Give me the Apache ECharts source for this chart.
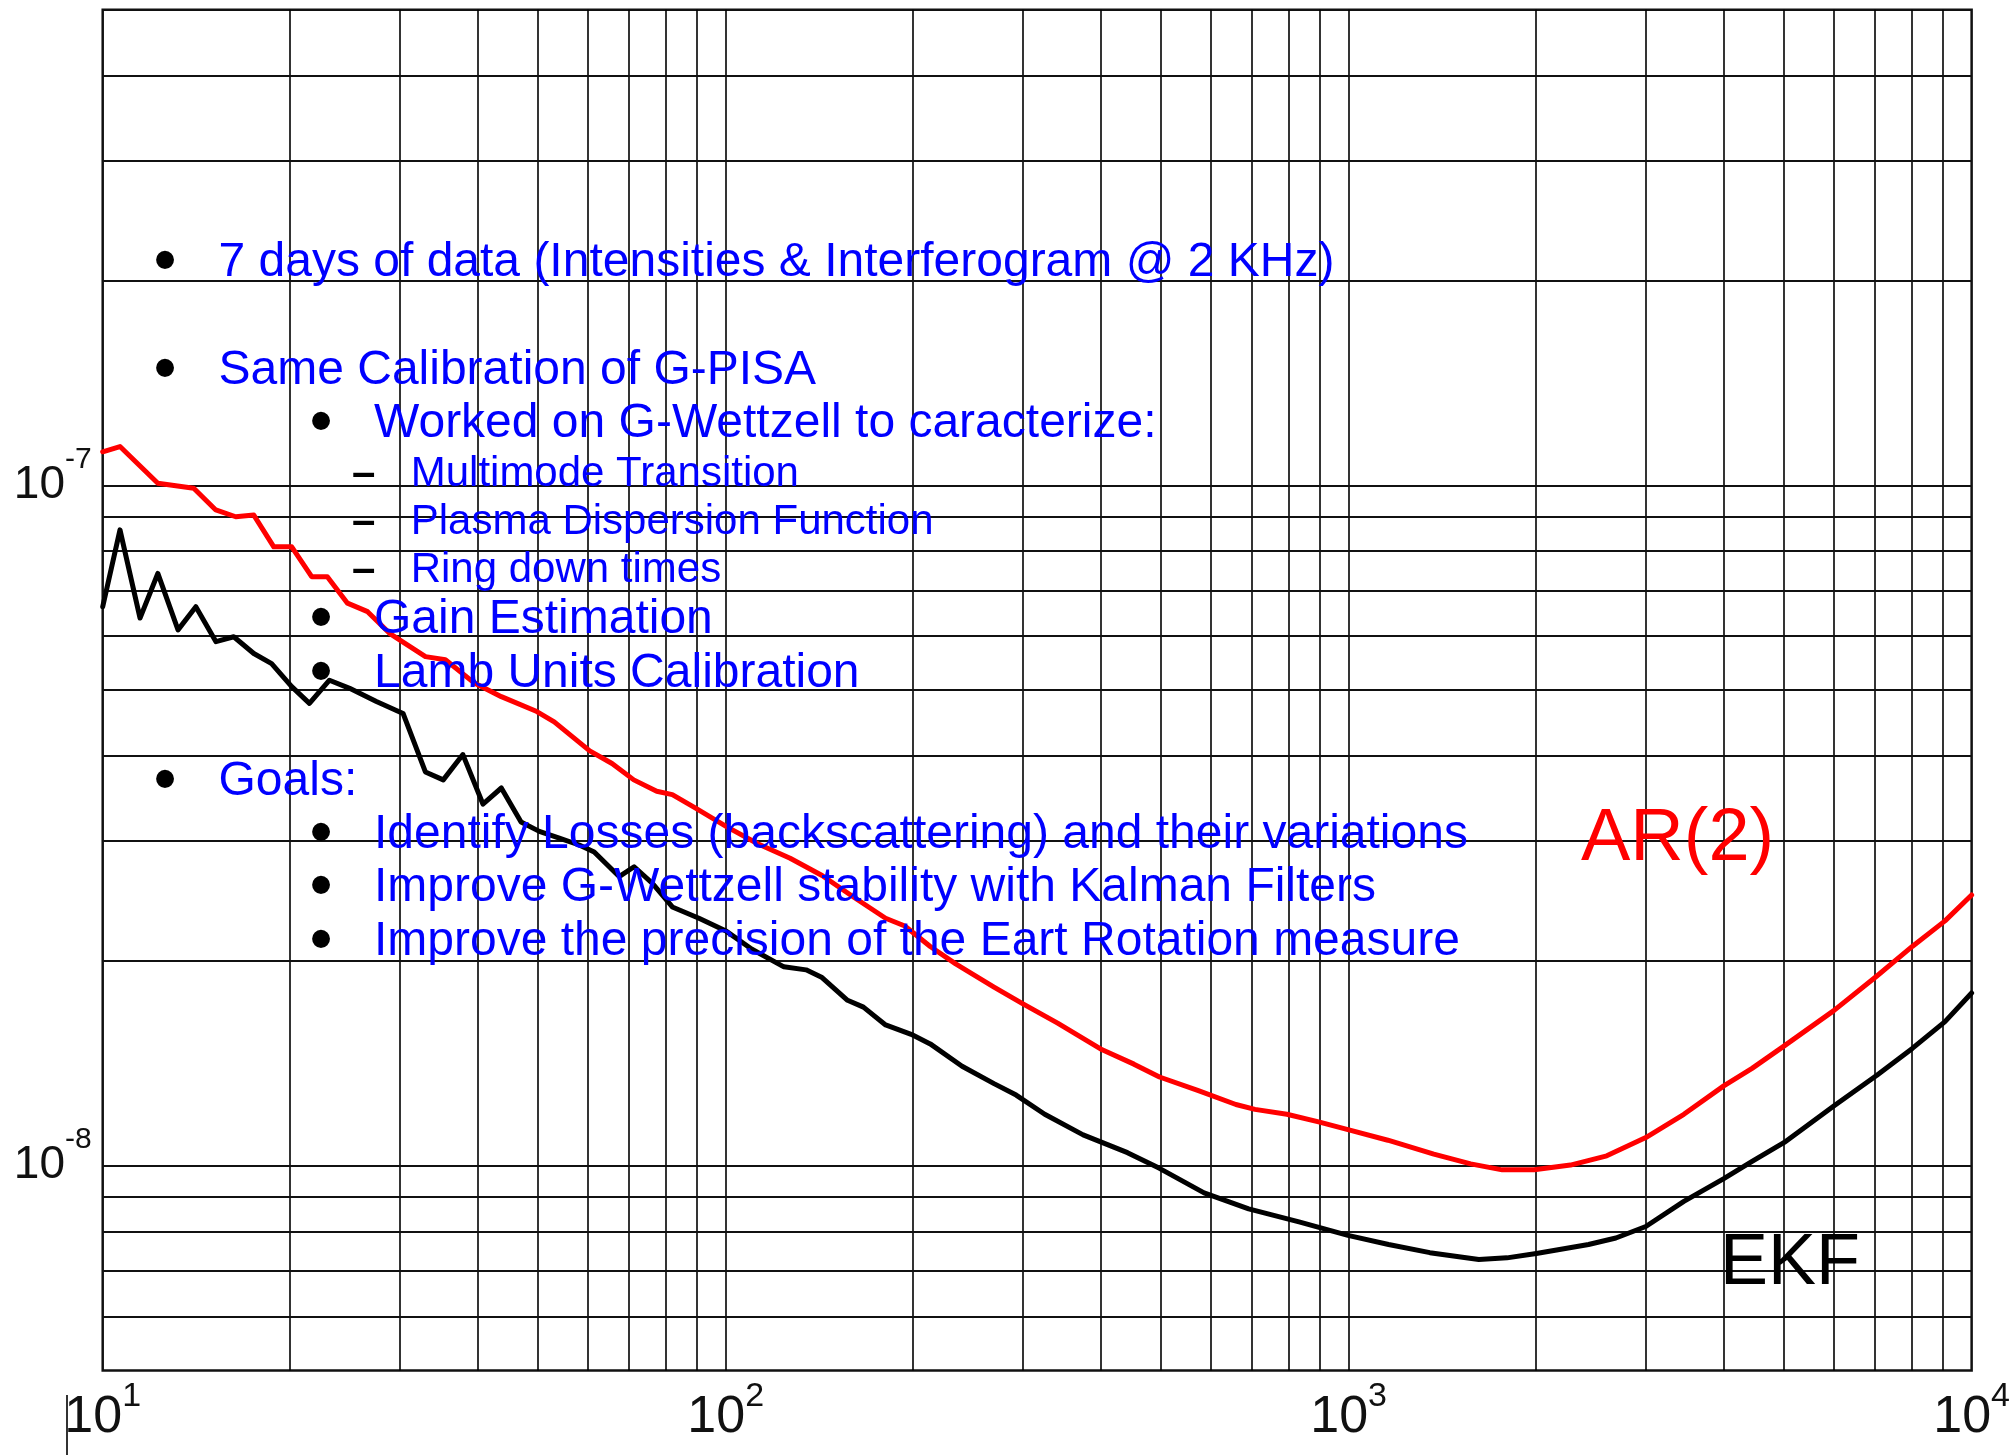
<!DOCTYPE html>
<html>
<head>
<meta charset="utf-8">
<script src="https://cdn.jsdelivr.net/npm/echarts@6/dist/echarts.min.js"></script>
<style>
  html, body { margin: 0; padding: 0; background: #ffffff; }
  #chart { width: 2013px; height: 1455px; }
</style>
</head>
<body>
<div id="chart"></div>
<script>
// AR(2) stability curve: frequency (x) and deviation (y)
const arFreq = [10, 10.66, 12.26, 14.0, 15.19, 16.35, 17.48, 18.82, 20.11, 21.65, 22.94, 24.71, 26.62, 28.87,
  32.97, 35.49, 39.51, 43.64, 49.76, 53.06, 60.5, 65.7, 71.2, 77.5, 82.1, 89.2, 100.3, 112.8, 126.9, 142.8,
  160.6, 180.6, 193.9, 213.0, 234.0, 269.6, 299.6, 341.1, 402.2, 452.2, 497.0, 572.4, 659.2, 707.3, 795.9,
  895.0, 997.4, 1156, 1370, 1570, 1764, 1985, 2270, 2596, 2999, 3452, 4001, 4442, 5003, 6008, 7046, 8031,
  9063, 10000];
const arValue = [1.12e-7, 1.14e-7, 1.007e-7, 9.90e-8, 9.20e-8, 8.99e-8, 9.04e-8, 8.12e-8, 8.12e-8, 7.34e-8,
  7.34e-8, 6.71e-8, 6.52e-8, 6.06e-8, 5.60e-8, 5.54e-8, 5.12e-8, 4.89e-8, 4.65e-8, 4.49e-8, 4.07e-8, 3.90e-8,
  3.69e-8, 3.55e-8, 3.51e-8, 3.36e-8, 3.15e-8, 2.97e-8, 2.83e-8, 2.67e-8, 2.48e-8, 2.31e-8, 2.25e-8, 2.10e-8,
  1.98e-8, 1.83e-8, 1.73e-8, 1.62e-8, 1.48e-8, 1.41e-8, 1.35e-8, 1.29e-8, 1.23e-8, 1.21e-8, 1.19e-8, 1.16e-8,
  1.13e-8, 1.09e-8, 1.04e-8, 1.006e-8, 9.86e-9, 9.86e-9, 1.002e-8, 1.034e-8, 1.10e-8, 1.19e-8, 1.31e-8,
  1.39e-8, 1.50e-8, 1.69e-8, 1.90e-8, 2.10e-8, 2.29e-8, 2.50e-8];

// EKF stability curve
const ekfFreq = [10, 10.66, 11.48, 12.26, 13.21, 14.11, 15.20, 16.23, 17.48, 18.67, 20.11, 21.47, 23.12, 24.91,
  27.50, 30.35, 32.96, 35.21, 37.86, 40.77, 43.64, 46.94, 50.22, 54.07, 58.20, 61.51, 67.45, 71.29, 76.28,
  82.1, 90.6, 100.3, 110.2, 124.0, 134.6, 142.8, 156.9, 166.4, 180.6, 198.5, 213.0, 239.6, 269.6, 292.6,
  325.2, 374.8, 441.6, 497.0, 586.1, 691.0, 832.4, 997.4, 1159, 1350, 1618, 1795, 2001, 2427, 2685, 2999,
  3452, 4001, 4442, 5003, 6008, 7046, 8031, 9063, 10000];
const ekfValue = [6.63e-8, 8.60e-8, 6.38e-8, 7.42e-8, 6.13e-8, 6.63e-8, 5.89e-8, 5.99e-8, 5.66e-8, 5.47e-8,
  5.06e-8, 4.78e-8, 5.17e-8, 5.03e-8, 4.81e-8, 4.62e-8, 3.79e-8, 3.69e-8, 4.02e-8, 3.40e-8, 3.59e-8, 3.20e-8,
  3.10e-8, 3.03e-8, 2.96e-8, 2.89e-8, 2.66e-8, 2.75e-8, 2.60e-8, 2.40e-8, 2.31e-8, 2.21e-8, 2.08e-8, 1.96e-8,
  1.94e-8, 1.89e-8, 1.75e-8, 1.71e-8, 1.61e-8, 1.56e-8, 1.51e-8, 1.40e-8, 1.32e-8, 1.27e-8, 1.19e-8, 1.11e-8,
  1.045e-8, 9.91e-9, 9.12e-9, 8.64e-9, 8.27e-9, 7.90e-9, 7.66e-9, 7.45e-9, 7.28e-9, 7.32e-9, 7.43e-9,
  7.66e-9, 7.83e-9, 8.14e-9, 8.86e-9, 9.57e-9, 1.015e-8, 1.082e-8, 1.224e-8, 1.358e-8, 1.487e-8, 1.628e-8,
  1.794e-8];

// Axis ranges and decade tick labels (exponents of 10)
const xRange = [10, 10000];
const yRange = [5e-9, 5e-7];
const xTickExponents = [1, 2, 3, 4];
const yTickExponents = [-8, -7];

// Log-paper grid lines
const xGridLines = [20, 30, 40, 50, 60, 70, 80, 90, 100, 200, 300, 400, 500, 600, 700, 800, 900, 1000,
  2000, 3000, 4000, 5000, 6000, 7000, 8000, 9000];
const yGridLines = [6e-9, 7e-9, 8e-9, 9e-9, 1e-8, 2e-8, 3e-8, 4e-8, 5e-8, 6e-8, 7e-8, 8e-8, 9e-8, 1e-7,
  2e-7, 3e-7, 4e-7];

// Slide notes drawn over the plot
const notes = [
  { level: 1, text: '7 days of data (Intensities & Interferogram @ 2 KHz)' },
  { level: 1, text: 'Same Calibration of G-PISA' },
  { level: 2, text: 'Worked on G-Wettzell to caracterize:' },
  { level: 3, text: 'Multimode Transition' },
  { level: 3, text: 'Plasma Dispersion Function' },
  { level: 3, text: 'Ring down times' },
  { level: 2, text: 'Gain Estimation' },
  { level: 2, text: 'Lamb Units Calibration' },
  { level: 1, text: 'Goals:' },
  { level: 2, text: 'Identify Losses (backscattering) and their variations' },
  { level: 2, text: 'Improve G-Wettzell stability with Kalman Filters' },
  { level: 2, text: 'Improve the precision of the Eart Rotation measure' }
];
const seriesNames = ['AR(2)', 'EKF'];

const FONT = '"Liberation Sans", Arial, Helvetica, sans-serif';

function zip(xs, ys) { return xs.map((x, i) => [x, ys[i]]); }

function powerLabel(allowed) {
  return function (value) {
    const l = Math.log10(value);
    const e = Math.round(l);
    if (Math.abs(l - e) > 1e-6 || allowed.indexOf(e) < 0) return '';
    return '{b|10}{s|' + e + '}';
  };
}

// Text layout for the notes
const noteBaselines = [278, 386, 439, 487.5, 535, 583, 635, 689, 797, 849.5, 903, 956.5];
const BULLET_SIZE = 66;
const levelStyle = {
  1: { marker: '\u2022', markerX: 165, markerAlign: 'center', textX: 218.5, size: 48 },
  2: { marker: '\u2022', markerX: 321, markerAlign: 'center', textX: 374, size: 48 },
  3: { marker: '\u2013', markerX: 352, markerAlign: 'left', textX: 410.7, size: 42 }
};
// canvas "middle" sits about 0.31em above the alphabetic baseline
function midFromBaseline(b, size) { return b - 0.31 * size; }

function textEl(str, x, y, size, color, align, weight) {
  return {
    type: 'text', x: x, y: y, z: 100, silent: true,
    style: {
      text: str, font: (weight || 'normal') + ' ' + size + 'px ' + FONT, fill: color,
      textAlign: align || 'left', textVerticalAlign: 'middle',
      align: align || 'left', verticalAlign: 'middle'
    }
  };
}

const graphics = [];
notes.forEach((n, i) => {
  const ls = levelStyle[n.level];
  const b = noteBaselines[i];
  if (ls.marker === '\u2022') {
    // dot centre sits ~16.7px above the text baseline
    graphics.push(textEl(ls.marker, ls.markerX, b - 16.7 + 0.04 * BULLET_SIZE, BULLET_SIZE, '#000000', 'center'));
  } else {
    graphics.push(textEl(ls.marker, ls.markerX, midFromBaseline(b, ls.size), ls.size, '#000000', 'left', 'bold'));
  }
  graphics.push(textEl(n.text, ls.textX, midFromBaseline(b, ls.size), ls.size, '#0000FF', 'left'));
});
graphics.push(textEl(seriesNames[0], 1581, midFromBaseline(863, 74), 74, '#FF0000', 'left'));
graphics.push(textEl(seriesNames[1], 1720, midFromBaseline(1286, 72), 72, '#000000', 'left'));
// stray rule left of the first x label
graphics.push({
  type: 'line', z: 100, silent: true,
  shape: { x1: 67, y1: 1395, x2: 67, y2: 1455 },
  style: { stroke: '#333333', lineWidth: 2 }
});

function gridLineMarker(lines, width, color) {
  return {
    silent: true, z: 1, symbol: ['none', 'none'], label: { show: false },
    lineStyle: { color: color, width: width, type: 'solid' },
    emphasis: { disabled: true },
    data: lines
  };
}
const verticalLines = xGridLines.map(v => [{ coord: [v, yRange[0]] }, { coord: [v, yRange[1]] }]);
const horizontalLines = yGridLines.map(v => [{ coord: [xRange[0], v] }, { coord: [xRange[1], v] }]);

const chart = echarts.init(document.getElementById('chart'), null, { renderer: 'canvas' });

chart.setOption({
  animation: false,
  backgroundColor: '#ffffff',
  grid: {
    left: 102.7, right: 38.5, top: 9.7, bottom: 84.5,
    show: true, borderColor: '#111111', borderWidth: 2.5, backgroundColor: 'transparent'
  },
  xAxis: {
    type: 'log', logBase: 10, min: xRange[0], max: xRange[1],
    axisLine: { show: false }, axisTick: { show: false },
    splitLine: { show: false }, minorSplitLine: { show: false },
    axisLabel: {
      margin: 9.5,
      formatter: powerLabel(xTickExponents),
      rich: {
        b: { fontSize: 52, fontFamily: FONT, color: '#111111', lineHeight: 56 },
        s: { fontSize: 34, fontFamily: FONT, color: '#111111', padding: [0, 0, 42, 0] }
      }
    }
  },
  yAxis: {
    type: 'log', logBase: 10, min: yRange[0], max: yRange[1],
    axisLine: { show: false }, axisTick: { show: false },
    splitLine: { show: false }, minorSplitLine: { show: false },
    axisLabel: {
      margin: 11,
      formatter: powerLabel(yTickExponents),
      rich: {
        b: { fontSize: 46, fontFamily: FONT, color: '#111111', lineHeight: 50 },
        s: { fontSize: 30, fontFamily: FONT, color: '#111111', padding: [0, 0, 52, 0] }
      }
    }
  },
  series: [
    {
      name: seriesNames[0], type: 'line', data: zip(arFreq, arValue),
      showSymbol: false, symbol: 'none', z: 3,
      lineStyle: { color: '#FF0000', width: 5, join: 'round', cap: 'round' },
      markLine: gridLineMarker(verticalLines, 1.6, '#000000')
    },
    {
      name: seriesNames[1], type: 'line', data: zip(ekfFreq, ekfValue),
      showSymbol: false, symbol: 'none', z: 3,
      lineStyle: { color: '#000000', width: 5, join: 'round', cap: 'round' },
      markLine: gridLineMarker(horizontalLines, 2.2, '#111111')
    }
  ],
  graphic: graphics
});
</script>
</body>
</html>
